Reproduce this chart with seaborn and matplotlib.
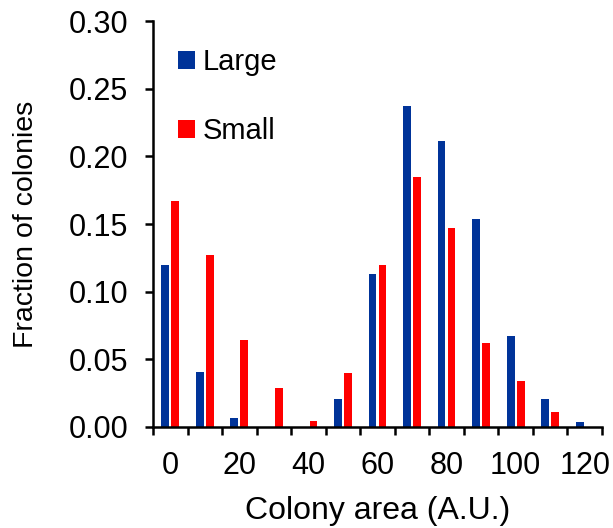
import matplotlib
matplotlib.use("Agg")
import matplotlib.pyplot as plt
from matplotlib.patches import Patch
from matplotlib.ticker import MultipleLocator, FixedLocator, FormatStrFormatter
import numpy as np
import pandas as pd
import seaborn as sns

# Colony-area histogram (fraction of colonies per bin)
area_bins = [0, 10, 20, 30, 40, 50, 60, 70, 80, 90, 100, 110, 120]
large_frac = [0.120, 0.041, 0.007, 0.0, 0.0, 0.021, 0.113, 0.237, 0.211, 0.154, 0.067, 0.021, 0.0035]
small_frac = [0.167, 0.127, 0.064, 0.029, 0.0045, 0.040, 0.120, 0.185, 0.147, 0.062, 0.034, 0.011, 0.0]
series_names = ["Large", "Small"]
series_colors = ["#003399", "#FF0000"]
x_tick_labels = ["0", "20", "40", "60", "80", "100", "120"]

df = pd.DataFrame({
    "area": area_bins * 2,
    "fraction": large_frac + small_frac,
    "size": [series_names[0]] * len(area_bins) + [series_names[1]] * len(area_bins),
})

sns.set_style("white")
plt.rcParams["font.family"] = ["Liberation Sans", "DejaVu Sans"]
for key in ["text.color", "axes.labelcolor", "xtick.color", "ytick.color"]:
    plt.rcParams[key] = "black"

fig = plt.figure(figsize=(6.13, 5.28), dpi=100)
ax = fig.add_axes([0.2496, 0.1913, 0.982 - 0.2496, 0.9602 - 0.1913])

sns.barplot(data=df, x="area", y="fraction", hue="size", order=area_bins,
            hue_order=series_names, palette=series_colors, width=0.58, gap=0.22,
            saturation=1, edgecolor="none", ax=ax, legend=False)

ax.set_xlim(-0.5, len(area_bins) - 0.5)
ax.set_ylim(0, 0.30)

# x axis: tick marks between bins, labels under every other bin
ax.xaxis.set_major_locator(FixedLocator(np.arange(0, len(area_bins), 2)))
ax.set_xticklabels(x_tick_labels)
ax.xaxis.set_minor_locator(FixedLocator(np.arange(-0.5, len(area_bins), 1)))
ax.tick_params(axis="x", which="major", length=0, pad=17, labelsize=22)
ax.tick_params(axis="x", which="minor", direction="out", length=6, width=1.8, bottom=True)

ax.yaxis.set_major_locator(MultipleLocator(0.05))
ax.yaxis.set_major_formatter(FormatStrFormatter("%.2f"))
ax.tick_params(axis="y", direction="out", length=6, width=1.8, pad=12, labelsize=22, left=True)

for side in ["top", "right"]:
    ax.spines[side].set_visible(False)
for side in ["left", "bottom"]:
    ax.spines[side].set_linewidth(1.8)
    ax.spines[side].set_color("black")

ax.set_xlabel("Colony area (A.U.)", fontsize=23, labelpad=11)
ax.set_ylabel("Fraction of colonies", fontsize=20.5)
ax.yaxis.set_label_coords(-0.255, 0.5)

handles = [Patch(facecolor=c, edgecolor="none") for c in series_colors]
ax.legend(handles, series_names, loc="upper left", bbox_to_anchor=(0.01, 0.984),
          frameon=False, fontsize=21, handlelength=0.58, handleheight=0.58,
          handletextpad=0.27, labelspacing=1.42, borderaxespad=0.3)

fig.savefig("out.png", dpi=100)
